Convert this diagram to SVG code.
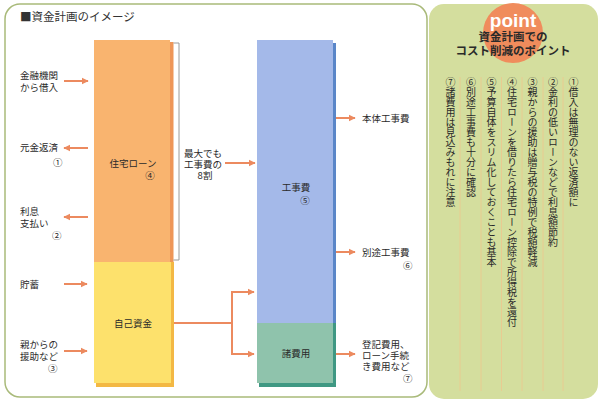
<svg xmlns="http://www.w3.org/2000/svg" width="600" height="403" viewBox="0 0 600 403">
<defs>
<marker id="ah" viewBox="0 0 10 10" refX="9" refY="5" markerWidth="3.6" markerHeight="3.6" orient="auto" markerUnits="strokeWidth">
<path d="M0,0 L10,5 L0,10 z" fill="#ec8a5f"/>
</marker>
<style>
text{font-family:"Noto Sans CJK JP","Noto Sans",sans-serif;fill:#2a2a2a;}
.lb{font-size:9.5px;}
.ar{stroke:#ec8a5f;stroke-width:2;fill:none;}
.ar2{stroke:#ec8a5f;stroke-width:2;fill:none;marker-end:url(#ah);}
.vt{font-size:10px;writing-mode:vertical-rl;fill:#2a2a2a;}
.dl{stroke:#efc78e;stroke-width:0.8;}
</style>
</defs>
<rect x="0" y="0" width="600" height="403" fill="#ffffff"/>
<g id="left-panel">
<rect x="5" y="4" width="422" height="393" rx="15" fill="#ffffff" stroke="#a9ba7a" stroke-width="1.5"/>
<text x="20" y="21" style="font-size:11.5px;fill:#333">■資金計画のイメージ</text>
</g>
<g id="right-panel">
<rect x="429" y="4" width="169" height="395" rx="15" fill="#d4de9e"/>
<g class="dl">
<line x1="460" y1="77" x2="460" y2="391"/>
<line x1="481" y1="77" x2="481" y2="391"/>
<line x1="501.5" y1="77" x2="501.5" y2="391"/>
<line x1="522" y1="77" x2="522" y2="391"/>
<line x1="543" y1="77" x2="543" y2="391"/>
<line x1="563" y1="77" x2="563" y2="391"/>
</g>
<circle cx="513" cy="33" r="30" fill="#f08c5c"/>
<text x="513" y="27" text-anchor="middle" style="font-family:'Liberation Sans',Arial,sans-serif;font-weight:bold;font-size:19px;fill:#ffffff">point</text>
<text x="513" y="41" text-anchor="middle" style="font-weight:bold;font-size:11.5px;fill:#2a2a2a">資金計画での</text>
<text x="513" y="55" text-anchor="middle" style="font-weight:bold;font-size:11.5px;fill:#2a2a2a">コスト削減のポイント</text>
<text class="vt" x="573.5" y="77">①借入は無理のない返済額に</text>
<text class="vt" x="553" y="77">②金利の低いローンなどで利息額節約</text>
<text class="vt" x="532.5" y="77">③親からの援助は贈与税の特例で税額軽減</text>
<text class="vt" x="512" y="77">④住宅ローンを借りたら住宅ローン控除で所得税を還付</text>
<text class="vt" x="491.5" y="77">⑤予算自体をスリム化しておくことも基本</text>
<text class="vt" x="471" y="77">⑥別途工事費も十分に確認</text>
<text class="vt" x="450.5" y="77">⑦諸費用は見込みもれに注意</text>
</g>
<g id="node-loan">
<rect x="170" y="42" width="3.5" height="220" fill="#ee9658"/>
<rect x="94" y="40" width="76" height="222" fill="#f9b46f"/>
<text class="lb" x="133" y="167" text-anchor="middle">住宅ローン</text>
<text class="lb" x="150" y="179" text-anchor="middle">④</text>
</g>
<g id="node-own">
<rect x="96" y="262" width="78" height="125" fill="#f3b844"/>
<rect x="94" y="262" width="77" height="121" fill="#fde16c"/>
<text class="lb" x="133" y="327" text-anchor="middle">自己資金</text>
</g>
<g id="node-koji">
<rect x="259" y="43" width="77" height="344" fill="#5a86c8"/>
<rect x="259" y="323" width="77" height="64" fill="#3f9883"/>
<rect x="257" y="40" width="76" height="283" fill="#a4b9e9"/>
<text class="lb" x="296" y="191" text-anchor="middle">工事費</text>
<text class="lb" x="305" y="204" text-anchor="middle">⑤</text>
</g>
<g id="node-shohiyo">
<rect x="257" y="323" width="76" height="60" fill="#8fc3ac"/>
<text class="lb" x="296" y="357" text-anchor="middle">諸費用</text>
</g>
<g id="bracket">
<path d="M173.5,43 H179 V260 H173.5" fill="none" stroke="#9a9a9a" stroke-width="1"/>
<text class="lb" x="203" y="157" text-anchor="middle">最大でも</text>
<text class="lb" x="203" y="168" text-anchor="middle">工事費の</text>
<text class="lb" x="205" y="179" text-anchor="middle">8割</text>
</g>
<g id="labels-left">
<text class="lb" x="20" y="79">金融機関</text>
<text class="lb" x="20" y="91">から借入</text>
<text class="lb" x="20" y="151">元金返済</text>
<text class="lb" x="53" y="166">①</text>
<text class="lb" x="20" y="215">利息</text>
<text class="lb" x="20" y="227">支払い</text>
<text class="lb" x="52" y="239">②</text>
<text class="lb" x="20" y="288">貯蓄</text>
<text class="lb" x="20" y="348">親からの</text>
<text class="lb" x="20" y="360">援助など</text>
<text class="lb" x="48" y="372">③</text>
</g>
<g id="labels-right">
<text class="lb" x="362" y="122">本体工事費</text>
<text class="lb" x="362" y="256">別途工事費</text>
<text class="lb" x="403" y="269">⑥</text>
<text class="lb" x="362" y="348">登記費用、</text>
<text class="lb" x="362" y="359">ローン手続</text>
<text class="lb" x="362" y="370">き費用など</text>
<text class="lb" x="403" y="382">⑦</text>
</g>
<g id="connectors">
<line class="ar2" x1="64" y1="81" x2="88" y2="81"/>
<line class="ar2" x1="88" y1="148" x2="64" y2="148"/>
<line class="ar2" x1="88" y1="217" x2="64" y2="217"/>
<line class="ar2" x1="64" y1="284" x2="87" y2="284"/>
<line class="ar2" x1="64" y1="351" x2="87" y2="351"/>
<line class="ar2" x1="225" y1="163" x2="255" y2="163"/>
<path class="ar" d="M174,323 H232"/>
<path class="ar" d="M232,292 V354"/>
<line class="ar2" x1="231" y1="292" x2="254" y2="292"/>
<line class="ar2" x1="231" y1="354" x2="254" y2="354"/>
<line class="ar2" x1="336" y1="118" x2="355" y2="118"/>
<line class="ar2" x1="336" y1="252" x2="355" y2="252"/>
<line class="ar2" x1="336" y1="354" x2="355" y2="354"/>
</g>
</svg>
